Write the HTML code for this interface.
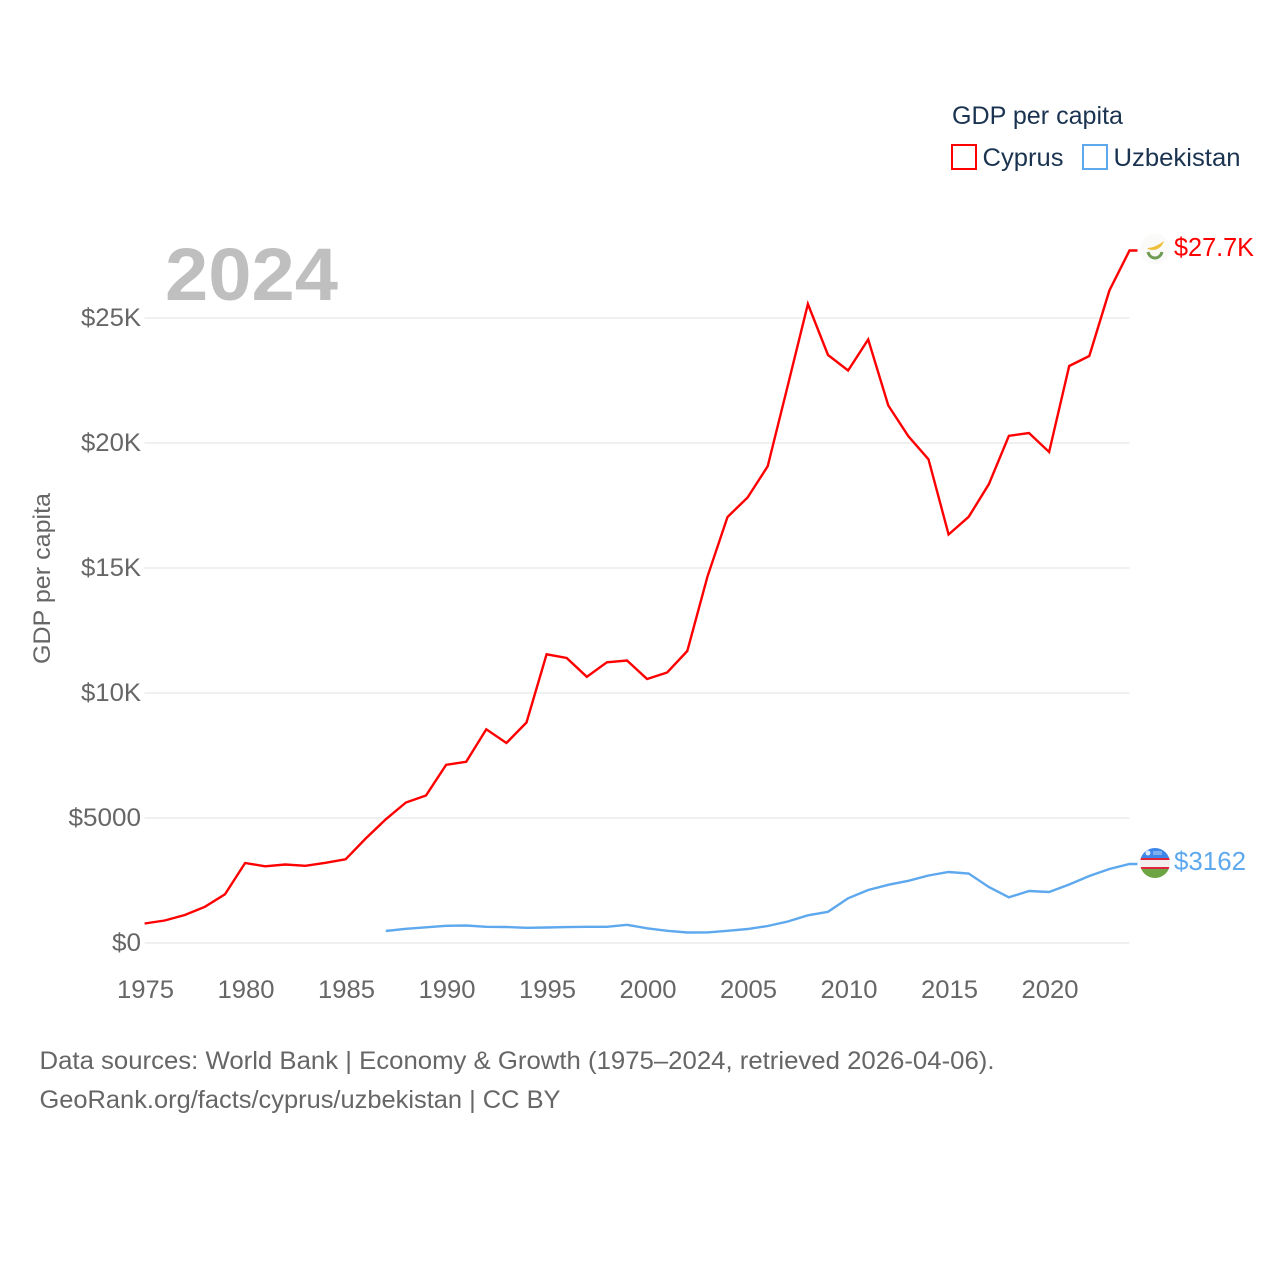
<!DOCTYPE html>
<html lang="en">
<head>
<meta charset="utf-8">
<title>GDP per capita: Cyprus and Uzbekistan</title>
<style>
html,body{margin:0;padding:0;background:#fff;width:1280px;height:1280px;overflow:hidden}
svg{display:block}
text{font-family:"Liberation Sans",sans-serif}
</style>
</head>
<body>
<svg id="chart" width="1280" height="1280" viewBox="0 0 1280 1280" xmlns="http://www.w3.org/2000/svg">
  <rect width="1280" height="1280" fill="#ffffff"/>
  <g id="grid"></g>
  <g id="y-ticks"></g>
  <g id="x-ticks"></g>
  <text x="165" y="300" font-size="74" font-weight="700" fill="#bfbfbf" textLength="173" lengthAdjust="spacingAndGlyphs">2024</text>
  <text transform="translate(50,664) rotate(-90)" font-size="24" fill="#666666" textLength="171" lengthAdjust="spacingAndGlyphs">GDP per capita</text>
  <g id="series"></g>

  <g>
    <circle cx="1155" cy="249" r="15" fill="#fafaf9"/>
    <path d="M1147 248 C1152 248 1157 246 1164 241 C1162 247 1158 250 1152 250 C1150 250 1148 249 1147 248 Z" fill="#eebf3c"/>
    <path d="M1148 252 C1149 256 1152 258 1155 258 C1158 258 1161 256 1162 252" fill="none" stroke="#6f9c55" stroke-width="3"/>
  </g>
  <g>
    <clipPath id="uz-clip"><circle cx="1155" cy="863" r="15"/></clipPath>
    <g clip-path="url(#uz-clip)">
      <rect x="1140" y="848" width="30" height="10" fill="#3e87e8"/>
      <rect x="1140" y="858" width="30" height="2" fill="#e0243c"/>
      <rect x="1140" y="860" width="30" height="7" fill="#f4eeee"/>
      <rect x="1140" y="867" width="30" height="2" fill="#e0243c"/>
      <rect x="1140" y="869" width="30" height="10" fill="#6ea544"/>
      <circle cx="1148" cy="853" r="2.5" fill="#dce9fb"/>
      <rect x="1153" y="851" width="9" height="4" fill="#7fb0ee"/>
    </g>
  </g>
  <text x="1174" y="256" font-size="26" fill="#ff0000" textLength="80" lengthAdjust="spacingAndGlyphs">$27.7K</text>
  <text x="1174" y="870" font-size="26" fill="#5ea8ee" textLength="72" lengthAdjust="spacingAndGlyphs">$3162</text>

  <g>
    <text x="952" y="124" font-size="25" fill="#1a3350" textLength="171" lengthAdjust="spacingAndGlyphs">GDP per capita</text>
    <g>
      <rect x="952" y="145" width="24" height="24" fill="#ffffff" stroke="#ff0000" stroke-width="2"/>
      <text x="982.5" y="166" font-size="25" fill="#1a3350" textLength="81" lengthAdjust="spacingAndGlyphs">Cyprus</text>
    </g>
    <g>
      <rect x="1083" y="145" width="24" height="24" fill="#ffffff" stroke="#5ea8ee" stroke-width="2"/>
      <text x="1113.5" y="166" font-size="25" fill="#1a3350" textLength="127" lengthAdjust="spacingAndGlyphs">Uzbekistan</text>
    </g>
  </g>

  <text x="39.5" y="1069" font-size="25" fill="#666666" textLength="955" lengthAdjust="spacingAndGlyphs">Data sources: World Bank | Economy &amp; Growth (1975–2024, retrieved 2026-04-06).</text>
  <text x="39.5" y="1108" font-size="25" fill="#666666" textLength="521" lengthAdjust="spacingAndGlyphs">GeoRank.org/facts/cyprus/uzbekistan | CC BY</text>
</svg>
<script>
const yTickValues = [0, 5000, 10000, 15000, 20000, 25000];
const yTickLabels = ["$0", "$5000", "$10K", "$15K", "$20K", "$25K"];
const xTickYears = [1975, 1980, 1985, 1990, 1995, 2000, 2005, 2010, 2015, 2020];
const cyprusStartYear = 1975;
const cyprusValues = [780, 900, 1120, 1450, 1950, 3200, 3070, 3140, 3090, 3210, 3350, 4180, 4950, 5620, 5900, 7130, 7250, 8550, 8000, 8820, 11550, 11400, 10650, 11230, 11300, 10560, 10820, 11680, 14650, 17040, 17820, 19070, 22300, 25560, 23520, 22900, 24140, 21500, 20270, 19350, 16340, 17050, 18350, 20290, 20400, 19640, 23080, 23480, 26100, 27700];
const uzbekistanStartYear = 1987;
const uzbekistanValues = [480, 570, 630, 690, 700, 650, 640, 610, 620, 635, 650, 650, 730, 590, 490, 420, 425, 490, 560, 680, 860, 1110, 1250, 1790, 2120, 2330, 2490, 2700, 2840, 2780, 2240, 1830, 2080, 2040, 2340, 2680, 2960, 3162];

const NS = "http://www.w3.org/2000/svg";
function xScale(year) { return 144.6 + (year - 1975) * 20.1; }
function yScale(value) { return 943 - value * 0.025; }

const gridGroup = document.getElementById("grid");
const yTickGroup = document.getElementById("y-ticks");
const xTickGroup = document.getElementById("x-ticks");
const seriesGroup = document.getElementById("series");

yTickValues.forEach(function (value, i) {
  const line = document.createElementNS(NS, "line");
  
  
  line.setAttribute("x1", xScale(1975));
  line.setAttribute("x2", xScale(2024));
  line.setAttribute("y1", yScale(value));
  line.setAttribute("y2", yScale(value));
  line.setAttribute("stroke", "#f0f0f0");
  line.setAttribute("stroke-width", "2");
  gridGroup.appendChild(line);

  const text = yTickLabels[i];
  const label = document.createElementNS(NS, "text");
  
  
  label.setAttribute("x", "141");
  label.setAttribute("y", yScale(value) + 8);
  label.setAttribute("text-anchor", "end");
  label.setAttribute("font-size", "25");
  label.setAttribute("fill", "#666666");
  label.setAttribute("textLength", text.length * 14.5 + (text.endsWith("K") ? 2 : 0));
  label.setAttribute("lengthAdjust", "spacingAndGlyphs");
  label.textContent = text;
  yTickGroup.appendChild(label);
});

xTickYears.forEach(function (year) {
  const label = document.createElementNS(NS, "text");
  
  
  label.setAttribute("x", xScale(year) + 0.9);
  label.setAttribute("y", "998");
  label.setAttribute("text-anchor", "middle");
  label.setAttribute("font-size", "25");
  label.setAttribute("fill", "#666666");
  label.setAttribute("textLength", "57");
  label.setAttribute("lengthAdjust", "spacingAndGlyphs");
  label.textContent = year;
  xTickGroup.appendChild(label);
});

function seriesPoints(startYear, values) {
  return values.map(function (value, i) {
    return xScale(startYear + i).toFixed(1) + "," + yScale(value).toFixed(1);
  });
}

function drawSeries(startYear, values, colour, name) {
  const points = seriesPoints(startYear, values);
  const last = values[values.length - 1];
  points.push((xScale(2024) + 8).toFixed(1) + "," + yScale(last).toFixed(1));
  const path = document.createElementNS(NS, "polyline");
  
  
  path.setAttribute("points", points.join(" "));
  path.setAttribute("fill", "none");
  path.setAttribute("stroke", colour);
  path.setAttribute("stroke-width", "2.4");
  path.setAttribute("stroke-linejoin", "miter");
  seriesGroup.appendChild(path);
}

drawSeries(cyprusStartYear, cyprusValues, "#ff0000", "cyprus-line");
drawSeries(uzbekistanStartYear, uzbekistanValues, "#5ea8ee", "uzbekistan-line");
</script>
</body>
</html>
